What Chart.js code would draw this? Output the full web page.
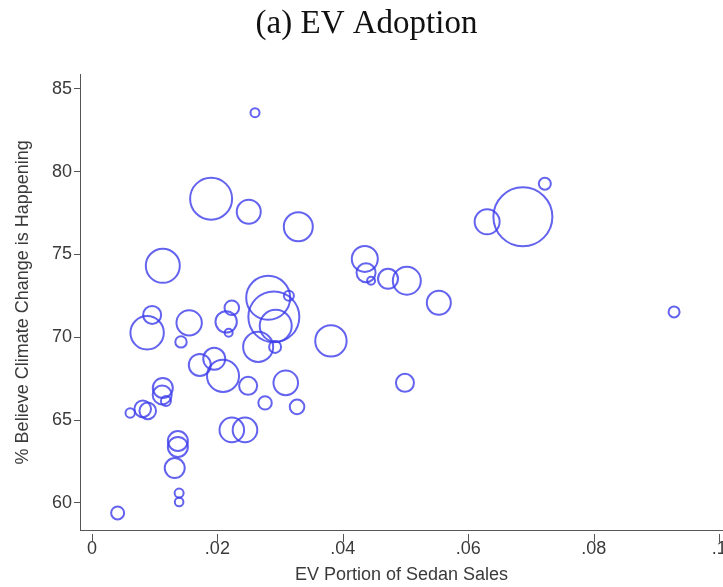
<!DOCTYPE html>
<html>
<head>
<meta charset="utf-8">
<title>EV Adoption</title>
<script src="https://cdn.jsdelivr.net/npm/chart.js@4.4.1/dist/chart.umd.min.js"></script>
<style>
    html, body { margin: 0; padding: 0; background: #fff; }
    #wrap { width: 723px; height: 587px; position: relative; }
</style>
</head>
<body>
<div id="wrap"><canvas id="evChart"></canvas></div>
<script>
// One bubble per state: EV share of sedan sales, % who believe climate change is happening,
// population (millions) which sets the bubble size
const evShare = [
    0.0041, 0.0260, 0.0190, 0.0250, 0.0329, 0.0113, 0.0722, 0.0687, 0.0630, 0.0435,
    0.0437, 0.0445, 0.0472, 0.0502, 0.0553, 0.0928, 0.0381, 0.0096, 0.0088, 0.0155,
    0.0142, 0.0214, 0.0223, 0.0218, 0.0281, 0.0290, 0.0293, 0.0314, 0.0265, 0.0292,
    0.0172, 0.0195, 0.0209, 0.0249, 0.0309, 0.0276, 0.0327, 0.0113, 0.0112, 0.0118,
    0.0081, 0.0089, 0.0061, 0.0223, 0.0244, 0.0137, 0.0137, 0.0132, 0.0139, 0.0139,
    0.0499
];
const believePct = [
    59.40, 83.55, 78.36, 77.57, 76.67, 74.31, 79.26, 77.27, 76.97, 74.73,
    73.89, 73.41, 73.53, 73.41, 72.08, 71.53, 69.78, 71.35, 70.27, 70.87,
    69.72, 70.93, 71.78, 70.27, 72.38, 71.23, 70.69, 72.50, 69.42, 69.42,
    68.33, 68.70, 67.67, 67.07, 67.25, 66.04, 65.80, 66.94, 66.52, 66.16,
    65.68, 65.56, 65.43, 64.41, 64.41, 63.74, 63.38, 62.11, 60.60, 60.06,
    67.25
];
const population = [
    1.91, 0.92, 19.96, 6.52, 9.52, 13.08, 1.63, 39.4, 7.07, 7.65,
    4.09, 0.72, 4.53, 8.87, 6.52, 1.37, 11.16, 3.67, 12.63, 7.30,
    1.47, 5.18, 2.41, 0.72, 21.9, 29.4, 11.6, 1.13, 10.2, 1.63,
    5.48, 5.48, 11.6, 3.67, 6.85, 2.03, 2.41, 4.53, 4.09, 1.13,
    3.12, 3.12, 1.0, 6.85, 6.85, 4.53, 4.53, 4.53, 0.92, 0.84,
    3.67
];

const xTickValues = [0, 0.02, 0.04, 0.06, 0.08, 0.1];
const xTickLabels = ['0', '.02', '.04', '.06', '.08', '.1'];
const yTickValues = [60, 65, 70, 75, 80, 85];

// bubble area proportional to population
function bubbleRadius(pop) {
    return 4.7 * Math.sqrt(pop);
}

const points = evShare.map((x, i) => ({
    x: x,
    y: believePct[i],
    r: bubbleRadius(population[i])
}));

const axisColor = '#555';
const labelColor = '#3a3a3a';
const sansFont = "'Liberation Sans', Arial, sans-serif";

// x tick marks sit a few pixels below the axis line
const offsetXTicks = {
    id: 'offsetXTicks',
    afterDraw(chart) {
        const { ctx, chartArea, scales } = chart;
        ctx.save();
        ctx.strokeStyle = axisColor;
        ctx.lineWidth = 1;
        ctx.beginPath();
        xTickValues.forEach(v => {
            const px = Math.round(scales.x.getPixelForValue(v)) + 0.5;
            ctx.moveTo(px, chartArea.bottom + 4);
            ctx.lineTo(px, chartArea.bottom + 12);
        });
        ctx.stroke();
        ctx.restore();
    }
};

new Chart(document.getElementById('evChart'), {
    type: 'bubble',
    data: {
        datasets: [{
            data: points,
            backgroundColor: 'rgba(0,0,0,0)',
            borderColor: 'rgba(60,60,235,0.8)',
            borderWidth: 2,
            clip: false
        }]
    },
    options: {
        responsive: true,
        maintainAspectRatio: false,
        animation: false,
        layout: { autoPadding: false, padding: { left: 10, right: 0, top: 5, bottom: 1 } },
        plugins: {
            legend: { display: false },
            tooltip: { enabled: false },
            title: {
                display: true,
                text: '(a) EV Adoption',
                color: '#111',
                font: { family: "'Liberation Serif', 'Times New Roman', serif", size: 33, weight: 'normal' },
                padding: { top: 0, bottom: 30 }
            }
        },
        scales: {
            x: {
                type: 'linear',
                min: -0.0019,
                max: 0.1006,
                afterBuildTicks: scale => {
                    scale.ticks = xTickValues.map(v => ({ value: v }));
                },
                afterFit: scale => {
                    scale.height = 56;
                    scale.paddingLeft = 0;
                    scale.paddingRight = 0;
                },
                grid: {
                    drawOnChartArea: false,
                    drawTicks: false
                },
                border: { display: true, color: axisColor, width: 1 },
                ticks: {
                    padding: 8,
                    color: labelColor,
                    font: { family: sansFont, size: 18 },
                    maxRotation: 0,
                    callback: (value, index) => xTickLabels[index]
                },
                title: {
                    display: true,
                    text: 'EV Portion of Sedan Sales',
                    color: labelColor,
                    font: { family: sansFont, size: 18 },
                    padding: { top: 0, bottom: 0 }
                }
            },
            y: {
                type: 'linear',
                min: 58.37,
                max: 85.85,
                afterBuildTicks: scale => {
                    scale.ticks = yTickValues.map(v => ({ value: v }));
                },
                afterFit: scale => { scale.width = 70; },
                grid: {
                    drawOnChartArea: false,
                    drawTicks: true,
                    tickLength: 6,
                    tickColor: axisColor
                },
                border: { display: true, color: axisColor, width: 1 },
                ticks: {
                    padding: 2,
                    color: labelColor,
                    font: { family: sansFont, size: 18 }
                },
                title: {
                    display: true,
                    text: '% Believe Climate Change is Happening',
                    color: labelColor,
                    font: { family: sansFont, size: 18 },
                    padding: { top: 2, bottom: 0 }
                }
            }
        }
    },
    plugins: [offsetXTicks]
});
</script>
</body>
</html>
